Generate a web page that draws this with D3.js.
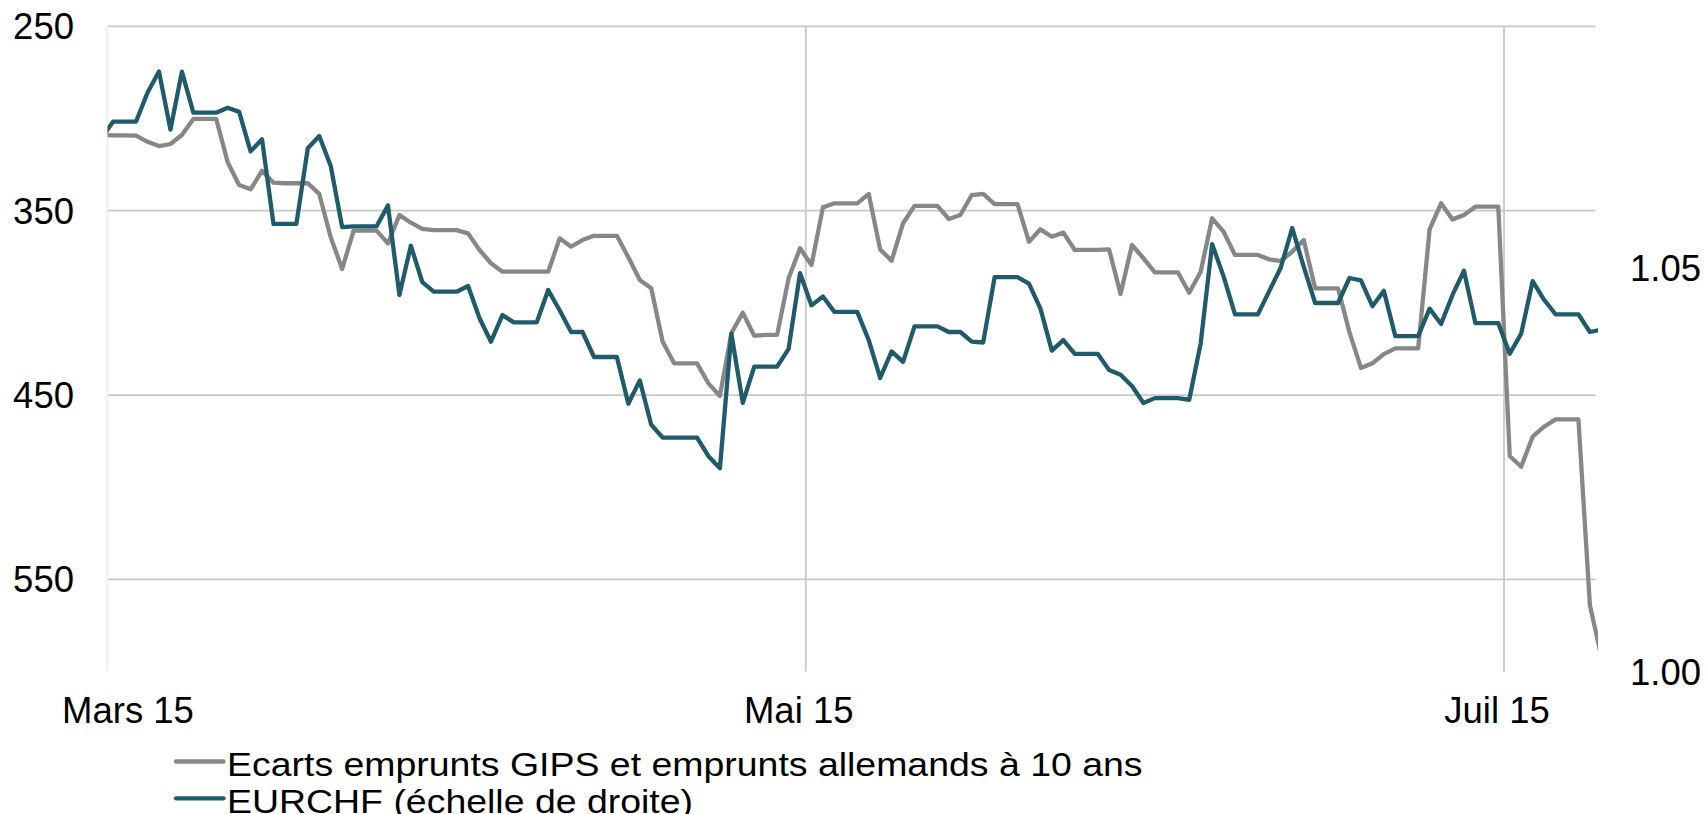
<!DOCTYPE html>
<html>
<head>
<meta charset="utf-8">
<script src="https://cdn.jsdelivr.net/npm/d3@7"></script>
<style>
  html, body { margin: 0; padding: 0; background: #ffffff; }
  svg { display: block; }
  text { font-family: "Liberation Sans", Arial, sans-serif; fill: #000; }
</style>
</head>
<body>
<svg id="chart" width="1705" height="814"></svg>
<script>
// Daily observations, 28 Feb 2015 to 9 Jul 2015 (weekend values carried forward)
const firstDay = "2015-02-28";
const lastDay = "2015-07-09";

// Spread between GIPS and German 10-year government bonds (bp, left axis, inverted)
const spreadGIPS = [
  308.9, 309.1, 309.1, 309.3, 312.6, 314.9, 313.8, 308.9, 300.2, 300.2,
  300.2, 323.7, 336.1, 338.4, 328.3, 334.8, 335.1, 335.1, 335.1, 340.9,
  364.4, 381.6, 360.8, 360.8, 360.8, 367.7, 352.3, 356.5, 359.9, 360.5,
  360.5, 360.5, 362.3, 371.3, 378.5, 383.1, 383.1, 383.1, 383.1, 383.1,
  365.0, 369.5, 365.9, 363.6, 363.6, 363.6, 375.3, 387.6, 392.1, 421.1,
  432.8, 432.8, 432.8, 443.7, 450.5, 416.5, 405.3, 417.8, 417.4, 417.4,
  386.7, 370.4, 379.5, 348.2, 346.0, 346.0, 346.0, 340.9, 371.0, 377.1,
  356.8, 347.4, 347.4, 347.4, 354.5, 352.3, 341.5, 340.9, 346.4, 346.4,
  346.4, 366.8, 360.1, 364.1, 361.9, 371.3, 371.3, 371.2, 371.0, 395.2,
  368.6, 375.8, 383.4, 383.4, 383.4, 394.5, 383.1, 354.1, 361.4, 374.0,
  374.0, 374.0, 376.4, 377.3, 372.2, 365.9, 392.1, 392.1, 392.1, 416.0,
  435.3, 432.8, 427.8, 424.7, 424.7, 424.7, 360.1, 346.0, 354.7, 352.3,
  347.8, 347.8, 347.8, 483.1, 488.9, 472.6, 467.2, 463.2, 463.2, 463.2,
  563.9, 592.0
];

// EURCHF exchange rate (right axis)
const eurchf = [
  1.0662, 1.0682, 1.0682, 1.0682, 1.0718, 1.0744, 1.0672, 1.0744, 1.0693, 1.0693,
  1.0693, 1.0699, 1.0694, 1.0645, 1.0660, 1.0555, 1.0555, 1.0555, 1.0649, 1.0664,
  1.0627, 1.0551, 1.0552, 1.0552, 1.0552, 1.0578, 1.0467, 1.0528, 1.0483, 1.0471,
  1.0471, 1.0471, 1.0478, 1.0438, 1.0409, 1.0442, 1.0433, 1.0433, 1.0433, 1.0473,
  1.0448, 1.0421, 1.0421, 1.0390, 1.0390, 1.0390, 1.0332, 1.0361, 1.0306, 1.0290,
  1.0290, 1.0290, 1.0290, 1.0267, 1.0252, 1.0419, 1.0333, 1.0378, 1.0378, 1.0378,
  1.0400, 1.0494, 1.0454, 1.0465, 1.0446, 1.0446, 1.0446, 1.0411, 1.0364, 1.0397,
  1.0384, 1.0428, 1.0428, 1.0428, 1.0421, 1.0421, 1.0409, 1.0408, 1.0489, 1.0489,
  1.0489, 1.0481, 1.0450, 1.0398, 1.0411, 1.0394, 1.0394, 1.0394, 1.0374, 1.0368,
  1.0354, 1.0333, 1.0339, 1.0339, 1.0339, 1.0337, 1.0407, 1.0530, 1.0490, 1.0443,
  1.0443, 1.0443, 1.0472, 1.0501, 1.0550, 1.0502, 1.0457, 1.0457, 1.0457, 1.0488,
  1.0485, 1.0453, 1.0472, 1.0416, 1.0416, 1.0416, 1.0450, 1.0431, 1.0467, 1.0497,
  1.0432, 1.0432, 1.0432, 1.0394, 1.0419, 1.0484, 1.0461, 1.0443, 1.0443, 1.0443,
  1.0421, 1.0424
];

// Axis ticks
const leftTicks = [250, 350, 450, 550];
const rightTicks = [1.00, 1.05];
const xTickDates = ["2015-03-01", "2015-05-01", "2015-07-01"];
const xTickLabels = ["Mars 15", "Mai 15", "Juil 15"];

const seriesNames = [
  "Ecarts emprunts GIPS et emprunts allemands à 10 ans",
  "EURCHF (échelle de droite)"
];
const seriesColors = ["#878787", "#1f5b6b"];

const parse = d3.utcParse("%Y-%m-%d");
const days = d3.utcDay.range(parse(firstDay), d3.utcDay.offset(parse(lastDay), 1))
  .map(d => d3.utcHour.offset(d, 12));

const plot = { left: 107.5, right: 1595.6, top: 26.4, bottom: 671.5 };

const x = d3.scaleUtc()
  .domain([parse("2015-03-01"), parse("2015-07-09")])
  .range([plot.left, plot.right]);
const yLeft = d3.scaleLinear().domain([250, 600]).range([plot.top, plot.bottom]);
const yRight = d3.scaleLinear().domain([1.00, 1.08]).range([plot.bottom, plot.top]);

const svg = d3.select("#chart");

svg.append("defs").append("clipPath").attr("id", "plotClip")
  .append("rect")
  .attr("x", plot.left).attr("y", 0)
  .attr("width", plot.right - plot.left + 2.5).attr("height", 814);

// Horizontal gridlines (left scale)
svg.append("g").selectAll("line").data(leftTicks).join("line")
  .attr("x1", plot.left).attr("x2", plot.right)
  .attr("y1", d => yLeft(d)).attr("y2", d => yLeft(d))
  .attr("stroke", "#c8c8c8").attr("stroke-width", 1.8);

// Vertical gridlines at month ticks (the first one is the faint axis line)
svg.append("g").selectAll("line").data(xTickDates).join("line")
  .attr("x1", d => x(parse(d))).attr("x2", d => x(parse(d)))
  .attr("y1", plot.top).attr("y2", plot.bottom)
  .attr("stroke", (d, i) => i === 0 ? "#ededed" : "#c8c8c8")
  .attr("stroke-width", 1.8);

// Left axis labels
svg.append("g").selectAll("text").data(leftTicks).join("text")
  .attr("x", 74).attr("y", d => yLeft(d) + 13)
  .attr("text-anchor", "end")
  .style("font-size", "36.5px")
  .text(d => d);

// Right axis labels
svg.append("g").selectAll("text").data(rightTicks).join("text")
  .attr("x", 1630).attr("y", d => yRight(d) + 13)
  .attr("text-anchor", "start")
  .style("font-size", "36.5px")
  .text(d => d3.format(".2f")(d));

// Bottom axis labels
svg.append("g").selectAll("text").data(xTickDates).join("text")
  .attr("x", (d, i) => x(parse(d)) + (i === 0 ? 20.5 : -7))
  .attr("y", 722.7)
  .attr("text-anchor", "middle")
  .style("font-size", "36.5px")
  .text((d, i) => xTickLabels[i]);

// Series lines
const lines = svg.append("g").attr("clip-path", "url(#plotClip)");

const spreadLine = d3.line()
  .x((d, i) => x(days[i]))
  .y(d => yLeft(d));
const fxLine = d3.line()
  .x((d, i) => x(days[i]))
  .y(d => yRight(d));

lines.append("path").datum(spreadGIPS)
  .attr("d", spreadLine)
  .attr("fill", "none")
  .attr("stroke", seriesColors[0])
  .attr("stroke-width", 4.3)
  .attr("stroke-linejoin", "round");

lines.append("path").datum(eurchf)
  .attr("d", fxLine)
  .attr("fill", "none")
  .attr("stroke", seriesColors[1])
  .attr("stroke-width", 4.3)
  .attr("stroke-linejoin", "round");

// Legend (text slightly widened horizontally)
const legend = svg.append("g");
const legendRows = [761.5, 798.3];
seriesNames.forEach((name, i) => {
  legend.append("line")
    .attr("x1", 176).attr("x2", 223.5)
    .attr("y1", legendRows[i]).attr("y2", legendRows[i])
    .attr("stroke", seriesColors[i]).attr("stroke-width", 4.3)
    .attr("stroke-linecap", "round");
  legend.append("text")
    .attr("transform", `translate(227,${legendRows[i] + 14.3}) scale(1.135,1)`)
    .style("font-size", "33px")
    .text(name);
});
</script>
</body>
</html>
